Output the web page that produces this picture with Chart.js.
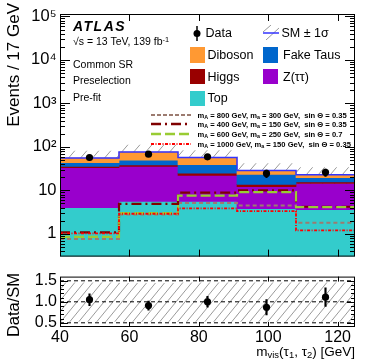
<!DOCTYPE html>
<html>
<head>
<meta charset="utf-8">
<script src="https://cdn.jsdelivr.net/npm/chart.js@4.4.0/dist/chart.umd.min.js"></script>
<style>
  body { margin: 0; background: #fff; font-family: "Liberation Sans", Arial, sans-serif; }
  #wrap { position: relative; width: 374px; height: 363px; overflow: hidden; }
  .t { position: absolute; white-space: nowrap; color: #000; line-height: 1; }
  .t sub { font-size: 70%; vertical-align: -0.25em; line-height: 0; }
  .t sup { font-size: 70%; vertical-align: 0.45em; line-height: 0; }
  .box { position: absolute; width: 15px; height: 15px; }
  .leg { font-size: 12.5px; }
  .sig { font-size: 7.6px; font-weight: bold; }
</style>
</head>
<body>
<div id="wrap">
  <div style="position:absolute;left:0;top:0;width:374px;height:270px"><canvas id="mainChart"></canvas></div>
  <div style="position:absolute;left:0;top:264px;width:374px;height:99px"><canvas id="ratioChart"></canvas></div>

  <div class="t" style="left:73px;top:19px;font-size:14px;font-weight:bold;font-style:italic;letter-spacing:1.5px">ATLAS</div>
  <div class="t" style="left:73px;top:36px;font-size:10.5px">√s = 13 TeV, 139 fb<sup>-1</sup></div>
  <div class="t" style="left:73px;top:59px;font-size:10.5px">Common SR</div>
  <div class="t" style="left:73px;top:75px;font-size:10.5px">Preselection</div>
  <div class="t" style="left:73px;top:91.5px;font-size:10.5px">Pre-fit</div>

  <svg style="position:absolute;left:192px;top:26px" width="10" height="15">
    <line x1="5" y1="0" x2="5" y2="15" stroke="#000" stroke-width="1.5"/>
    <circle cx="5" cy="7.5" r="3.5" fill="#000"/>
  </svg>
  <div class="t leg" style="left:205.5px;top:27px">Data</div>
  <svg style="position:absolute;left:263px;top:25px" width="16" height="15">
    <line x1="0" y1="7" x2="8" y2="0" stroke="#9a9a9a" stroke-width="1"/>
    <line x1="3" y1="15" x2="16" y2="3" stroke="#9a9a9a" stroke-width="1"/>
    <line x1="0" y1="8" x2="16" y2="8" stroke="#3333ff" stroke-width="1.5"/>
  </svg>
  <div class="t leg" style="left:281.5px;top:27px">SM ± 1σ</div>

  <div class="box" style="left:190px;top:47px;height:16px;background:#ff9933"></div>
  <div class="t leg" style="left:207.5px;top:49px">Diboson</div>
  <div class="box" style="left:263px;top:47px;height:16px;background:#0066cc"></div>
  <div class="t leg" style="left:283px;top:49px">Fake Taus</div>
  <div class="box" style="left:190px;top:69px;background:#990000"></div>
  <div class="t leg" style="left:207.5px;top:70.5px">Higgs</div>
  <div class="box" style="left:263px;top:69px;background:#9900cc"></div>
  <div class="t leg" style="left:283px;top:70.5px">Z(ττ)</div>
  <div class="box" style="left:190px;top:91px;background:#33cccc"></div>
  <div class="t leg" style="left:207.5px;top:92px">Top</div>

  <svg style="position:absolute;left:151px;top:110px" width="40" height="40">
    <line x1="0" y1="5" x2="40" y2="5" stroke="#9c7b70" stroke-width="2" stroke-dasharray="4 2"/>
    <line x1="0" y1="14" x2="40" y2="14" stroke="#7f0000" stroke-width="2.5" stroke-dasharray="10 4 2 4"/>
    <line x1="0" y1="24" x2="40" y2="24" stroke="#99cc33" stroke-width="2.5" stroke-dasharray="10 4"/>
    <line x1="0" y1="34" x2="40" y2="34" stroke="#ff0000" stroke-width="2" stroke-dasharray="3 1.5 1 1.5"/>
  </svg>
  <div class="t sig" style="left:197.5px;top:111.5px">m<sub>A</sub> = 800 GeV, m<sub>a</sub> = 300 GeV,&nbsp; sin Θ = 0.35</div>
  <div class="t sig" style="left:197.5px;top:120.5px">m<sub>A</sub> = 400 GeV, m<sub>a</sub> = 150 GeV,&nbsp; sin Θ = 0.35</div>
  <div class="t sig" style="left:197.5px;top:130.5px">m<sub>A</sub> = 600 GeV, m<sub>a</sub> = 250 GeV,&nbsp; sin Θ = 0.7</div>
  <div class="t sig" style="left:197.5px;top:140.5px">m<sub>A</sub> = 1000 GeV, m<sub>a</sub> = 150 GeV,&nbsp; sin Θ = 0.35</div>

  <div class="t" style="left:4.5px;top:133px;width:130px;text-align:right;font-size:17px;transform-origin:0 0;transform:rotate(-90deg)">Events / 17 GeV</div>
  <div class="t" style="left:5px;top:355px;width:100px;text-align:center;font-size:16.5px;transform-origin:0 0;transform:rotate(-90deg)">Data/SM</div>
  <div class="t" style="right:19px;top:345px;font-size:13.5px">m<sub>vis</sub>(τ<sub>1</sub>, τ<sub>2</sub>) [GeV]</div>
</div>

<script>
// values
const binEdges = [40, 57, 74, 91, 108, 125];
const binCenters = [48.5, 65.5, 82.5, 99.5, 116.5];
const xTickValues = [40, 60, 80, 100, 120];

const topBkg = [4.0, 5.6, 5.6, 3.8, 3.6];
const zttBkg = [29.5, 30.2, 16.6, 8.3, 10.8];
const higgsBkg = [2.3, 2.7, 2.7, 1.6, 1.3];
const fakeTausBkg = [7.5, 11.0, 14.2, 9.6, 4.0];
const dibosonBkg = [12.0, 26.6, 18.0, 5.4, 3.3];

const dataCounts = [57, 68, 59, 24.5, 26];
const dataErrors = [7.5, 8.2, 7.7, 4.9, 5.1];

// relative SM uncertainty (up / down)
const systUp = [0.45, 0.44, 0.45, 0.45, 0.45];
const systDown = [0.47, 0.47, 0.47, 0.47, 0.47];

const sigA800a300 = [0.76, 2.8, 5.1, 4.5, 1.8];
const sigA400a150 = [1.08, 4.9, 8.9, 10.0, 4.2];
const sigA600a250 = [0.85, 3.0, 7.6, 9.1, 4.1];
const sigA1000a150 = [1.03, 2.9, 3.85, 3.35, 1.2];

const ratioValues = [1.05, 0.91, 1.0, 0.87, 1.11];
const ratioErrors = [0.14, 0.11, 0.13, 0.18, 0.22];
const ratioRefLines = [0.5, 1, 1.5];

const mainYTicks = [1, 10, 100, 1000, 10000, 100000];
const ratioYTicks = [0.5, 1, 1.5];

const X_MIN = 40, X_MAX = 125;
const Y_MIN = 0.3, Y_MAX = 1.14e5;
const R_MIN = 0.4, R_MAX = 1.6;

Chart.defaults.font.family = '"Liberation Sans", Arial, sans-serif';
Chart.defaults.color = '#000';

function makeHatch(w, h, color) {
    const c = document.createElement('canvas');
    c.width = w; c.height = h;
    const g = c.getContext('2d');
    g.strokeStyle = color;
    g.lineWidth = 1;
    g.beginPath();
    g.moveTo(0, h); g.lineTo(w, 0);
    g.moveTo(-w, h); g.lineTo(0, 0);
    g.moveTo(w, h); g.lineTo(2 * w, 0);
    g.stroke();
    return g.createPattern(c, 'repeat');
}

// inward ROOT-style ticks + frame
const frameTicks = {
    id: 'frameTicks',
    afterDatasetsDraw(chart, args, opts) {
        const { ctx, chartArea: a, scales } = chart;
        ctx.save();
        ctx.strokeStyle = '#000';
        ctx.lineWidth = 1;
        ctx.beginPath();
        opts.xTicks.forEach(t => {
            const px = Math.round(scales.x.getPixelForValue(t.v)) + 0.5;
            if (px < a.left + 1 || px > a.right - 1) return;
            ctx.moveTo(px, a.bottom); ctx.lineTo(px, a.bottom - t.len);
            ctx.moveTo(px, a.top); ctx.lineTo(px, a.top + t.len);
        });
        opts.yTicks.forEach(t => {
            const py = Math.round(scales.y.getPixelForValue(t.v)) + 0.5;
            if (py < a.top + 1 || py > a.bottom - 1) return;
            ctx.moveTo(a.left, py); ctx.lineTo(a.left + t.len, py);
            ctx.moveTo(a.right, py); ctx.lineTo(a.right - t.len, py);
        });
        ctx.stroke();
        ctx.strokeRect(a.left + 0.5, a.top + 0.5, a.right - a.left - 1, a.bottom - a.top - 1);
        ctx.restore();
    }
};

const stepPoints = vals => binEdges.map((e, i) => ({ x: e, y: vals[Math.min(i, vals.length - 1)] }));

// ---------- main panel ----------
const stackDefs = [
    { label: 'Top', values: topBkg, color: '#33cccc' },
    { label: 'Z(ττ)', values: zttBkg, color: '#9900cc' },
    { label: 'Higgs', values: higgsBkg, color: '#990000' },
    { label: 'Fake Taus', values: fakeTausBkg, color: '#0066cc' },
    { label: 'Diboson', values: dibosonBkg, color: '#ff9933' }
];
const cumulative = binCenters.map(() => 0);
const stackDatasets = stackDefs.map((s, k) => {
    const data = binCenters.map((x, i) => {
        const lo = cumulative[i];
        cumulative[i] += s.values[i];
        return { x: x, y: k === 0 ? cumulative[i] : [lo, cumulative[i]] };
    });
    return {
        type: 'bar', label: s.label, data: data, backgroundColor: s.color,
        grouped: false, categoryPercentage: 1, barPercentage: 1, borderWidth: 0, order: 20 - k
    };
});
const smTotal = cumulative.slice();

const signalDefs = [
    { values: sigA800a300, color: '#9c7b70', dash: [4, 3], width: 2 },
    { values: sigA400a150, color: '#7f0000', dash: [10, 4, 2, 4], width: 2.2 },
    { values: sigA600a250, color: '#99cc33', dash: [10, 4], width: 2.2 },
    { values: sigA1000a150, color: '#ff0000', dash: [3, 1.5, 1, 1.5], width: 1.8 }
];
const signalDatasets = signalDefs.map((s, k) => ({
    type: 'line', data: stepPoints(s.values), stepped: true, borderColor: s.color,
    borderDash: s.dash, borderWidth: s.width, pointRadius: 0, fill: false, order: 5 - k
}));

const mainLogTicks = [];
for (let e = -1; e <= 5; e++) {
    for (let m = 1; m <= 9; m++) {
        const v = m * Math.pow(10, e);
        if (v >= Y_MIN && v <= Y_MAX) mainLogTicks.push({ v: v, len: m === 1 ? 10 : 5 });
    }
}
const supDigits = { '0': '⁰', '1': '¹', '2': '²', '3': '³', '4': '⁴', '5': '⁵' };

new Chart(document.getElementById('mainChart'), {
    type: 'bar',
    data: {
        datasets: [
            {
                type: 'scatter', data: binCenters.map((x, i) => ({ x: x, y: dataCounts[i] })),
                pointRadius: 3.6, pointBackgroundColor: '#000', pointBorderWidth: 0, order: 0
            },
            {
                type: 'bar', data: binCenters.map((x, i) => ({ x: x, y: [dataCounts[i] - dataErrors[i], dataCounts[i] + dataErrors[i]] })),
                backgroundColor: '#000', barThickness: 1.5, grouped: false, order: 1
            },
            ...signalDatasets,
            {
                type: 'line', data: stepPoints(smTotal), stepped: true, borderColor: '#3333ff',
                borderWidth: 1.5, pointRadius: 0, fill: false, order: 7
            },
            ...stackDatasets,
            {
                // uncertainty band sits behind the stack, only its upper part shows
                type: 'bar', data: binCenters.map((x, i) => ({ x: x, y: [smTotal[i] * (1 - systDown[i]), smTotal[i] * (1 + systUp[i])] })),
                backgroundColor: makeHatch(12, 14, '#9a9a9a'), grouped: false,
                categoryPercentage: 1, barPercentage: 1, borderWidth: 0, order: 30
            }
        ]
    },
    options: {
        responsive: true,
        maintainAspectRatio: false,
        animation: false,
        devicePixelRatio: 1,
        layout: { padding: { left: 0, right: 19, top: 14, bottom: 6 } },
        plugins: {
            legend: { display: false },
            tooltip: { enabled: false },
            frameTicks: { xTicks: xTickValues.map(v => ({ v: v, len: 7 })), yTicks: mainLogTicks }
        },
        scales: {
            x: {
                type: 'linear', min: X_MIN, max: X_MAX, offset: false,
                grid: { display: false, offset: false, drawTicks: false }, border: { display: false },
                ticks: { display: false },
                afterBuildTicks: s => { s.ticks = xTickValues.map(v => ({ value: v })); },
                afterFit: s => { s.height = 0; }
            },
            y: {
                type: 'logarithmic', min: Y_MIN, max: Y_MAX,
                grid: { display: false, drawTicks: false }, border: { display: false },
                ticks: {
                    font: { size: 16.5 }, color: '#000', padding: 3.5, autoSkip: false,
                    callback: v => {
                        const e = Math.round(Math.log10(v));
                        if (e === 0) return '1';
                        if (e === 1) return '10';
                        return '10' + String(e).split('').map(d => supDigits[d]).join('');
                    }
                },
                afterBuildTicks: s => { s.ticks = mainYTicks.map(v => ({ value: v, major: true })); },
                afterFit: s => { s.width = 60; }
            }
        }
    },
    plugins: [frameTicks]
});

// ---------- ratio panel ----------
const ratioMinor = [];
for (let k = 4; k <= 16; k++) {
    const v = k / 10;
    ratioMinor.push({ v: v, len: (k % 5 === 0) ? 8 : 4 });
}

new Chart(document.getElementById('ratioChart'), {
    type: 'bar',
    data: {
        datasets: [
            {
                type: 'scatter', data: binCenters.map((x, i) => ({ x: x, y: ratioValues[i] })),
                pointRadius: 3.6, pointBackgroundColor: '#000', pointBorderWidth: 0, order: 0
            },
            {
                type: 'bar', data: binCenters.map((x, i) => ({ x: x, y: [ratioValues[i] - ratioErrors[i], ratioValues[i] + ratioErrors[i]] })),
                backgroundColor: '#000', barThickness: 1.5, grouped: false, order: 1
            },
            ...ratioRefLines.map(v => ({
                type: 'line', data: [{ x: X_MIN, y: v }, { x: X_MAX, y: v }], borderColor: '#000',
                borderWidth: 1, borderDash: [4, 3], pointRadius: 0, fill: false, order: 2
            })),
            {
                type: 'bar', data: binCenters.map((x, i) => ({ x: x, y: [1 - systDown[i], 1 + systUp[i]] })),
                backgroundColor: makeHatch(9, 11, '#9a9a9a'), grouped: false,
                categoryPercentage: 1, barPercentage: 1, borderWidth: 0, order: 3
            }
        ]
    },
    options: {
        responsive: true,
        maintainAspectRatio: false,
        animation: false,
        devicePixelRatio: 1,
        layout: { padding: { left: 0, right: 19, top: 11, bottom: 0 } },
        plugins: {
            legend: { display: false },
            tooltip: { enabled: false },
            frameTicks: { xTicks: xTickValues.map(v => ({ v: v, len: 5 })), yTicks: ratioMinor }
        },
        scales: {
            x: {
                type: 'linear', min: X_MIN, max: X_MAX, offset: false,
                grid: { display: false, offset: false, drawTicks: false }, border: { display: false },
                ticks: { font: { size: 16 }, color: '#000', padding: 1, autoSkip: false, maxRotation: 0 },
                afterBuildTicks: s => { s.ticks = xTickValues.map(v => ({ value: v })); },
                afterFit: s => { s.height = 36; }
            },
            y: {
                type: 'linear', min: R_MIN, max: R_MAX,
                grid: { display: false, drawTicks: false }, border: { display: false },
                ticks: { font: { size: 16 }, color: '#000', padding: 3, autoSkip: false },
                afterBuildTicks: s => { s.ticks = ratioYTicks.map(v => ({ value: v })); },
                afterFit: s => { s.width = 60; }
            }
        }
    },
    plugins: [frameTicks]
});
</script>
</body>
</html>
